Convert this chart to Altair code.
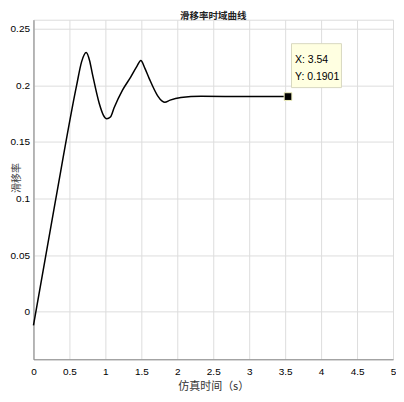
import altair as alt
import pandas as pd

# slip ratio time-domain curve
t_vals = [0.0, 0.3, 0.6, 0.67, 0.733, 0.78, 0.82, 0.915, 0.97,
          1.02, 1.07, 1.12, 1.24, 1.354, 1.44, 1.493, 1.55, 1.61, 1.725, 1.79, 1.826,
          1.9, 2.05, 2.33, 3.0, 3.54]
s_vals = [-0.012, 0.096, 0.2, 0.221, 0.229, 0.222, 0.21, 0.184, 0.174,
          0.1705, 0.172, 0.18, 0.196, 0.2075, 0.217, 0.222, 0.215, 0.206, 0.191, 0.186, 0.185,
          0.187, 0.1893, 0.1903, 0.1901, 0.1901]

tip_x = [3.54]
tip_y = [0.1901]
tip_lines = ["X: 3.54", "Y: 0.1901"]

x_ticks = [0, 0.5, 1, 1.5, 2, 2.5, 3, 3.5, 4, 4.5, 5]
y_ticks = [0, 0.05, 0.1, 0.15, 0.2, 0.25]

df = pd.DataFrame({"t": t_vals, "s": s_vals})
tip = pd.DataFrame({"t": tip_x, "s": tip_y})
tip_txt = pd.DataFrame({"t": tip_x * 2, "s": tip_y * 2, "label": tip_lines, "row": [0, 1]})

sans = "Liberation Sans, Arial"
cjk = "Noto Sans CJK SC"

xs = alt.Scale(domain=[0, 5], nice=False, zero=False)
ys = alt.Scale(domain=[-0.042, 0.258], nice=False, zero=False)

xaxis = alt.Axis(values=x_ticks, format="~g", title="仿真时间（s）", grid=True,
                 labelPadding=7, labelOverlap=False, labelFlush=False, ticks=False, tickSize=0,
                 titleFont=cjk, titleFontSize=11, titleFontWeight="normal",
                 titleY=27, titleBaseline="middle", titleColor="#333")
yaxis = alt.Axis(values=y_ticks, format="~g", title="滑移率", grid=True,
                 labelPadding=4, labelOverlap=False, labelFlush=False, ticks=False, tickSize=0,
                 titleFont=cjk, titleFontSize=10, titleFontWeight="normal",
                 titleX=-17, titleY=158, titleAngle=-90, titleAlign="center",
                 titleBaseline="middle", titleColor="#444")

X = alt.X("t:Q", scale=xs, axis=xaxis)
Y = alt.Y("s:Q", scale=ys, axis=yaxis)

line = alt.Chart(df).mark_line(color="black", strokeWidth=1.5, interpolate="monotone").encode(
    x=X, y=Y)

box = alt.Chart(tip).mark_rect(width=50, height=44, xOffset=28.5, yOffset=-31,
                               fill="#ffffe1", stroke="#d8d8c0", strokeWidth=1).encode(x=X, y=Y)

txt0 = alt.Chart(tip_txt).transform_filter("datum.row == 0").mark_text(
    align="left", baseline="middle", dx=7, dy=-37, font=sans, fontSize=10.5, color="black").encode(
    x=X, y=Y, text="label:N")
txt1 = alt.Chart(tip_txt).transform_filter("datum.row == 1").mark_text(
    align="left", baseline="middle", dx=7, dy=-19.5, font=sans, fontSize=10.5, color="black").encode(
    x=X, y=Y, text="label:N")

marker = alt.Chart(tip).mark_square(size=60, color="black", stroke="#f0f0c0", strokeWidth=1,
                                    opacity=1).encode(x=X, y=Y)

chart = alt.layer(line, box, txt0, txt1, marker).properties(
    width=360, height=340,
    title=alt.TitleParams("滑移率时域曲线", font=cjk, fontSize=9.5, fontWeight="bold",
                          color="#222", offset=-1),
    autosize=alt.AutoSizeParams(type="none"),
    padding={"left": 25.5, "top": 11.5, "right": 3, "bottom": 35},
).configure_view(stroke="#222", strokeWidth=1).configure_axis(
    domain=False, gridColor="#c4c4c4", gridWidth=1,
    labelFont=sans, labelFontSize=9, labelColor="#333",
).configure(background="white")

chart.save("out.html", embed_options={"renderer": "svg", "actions": False})
